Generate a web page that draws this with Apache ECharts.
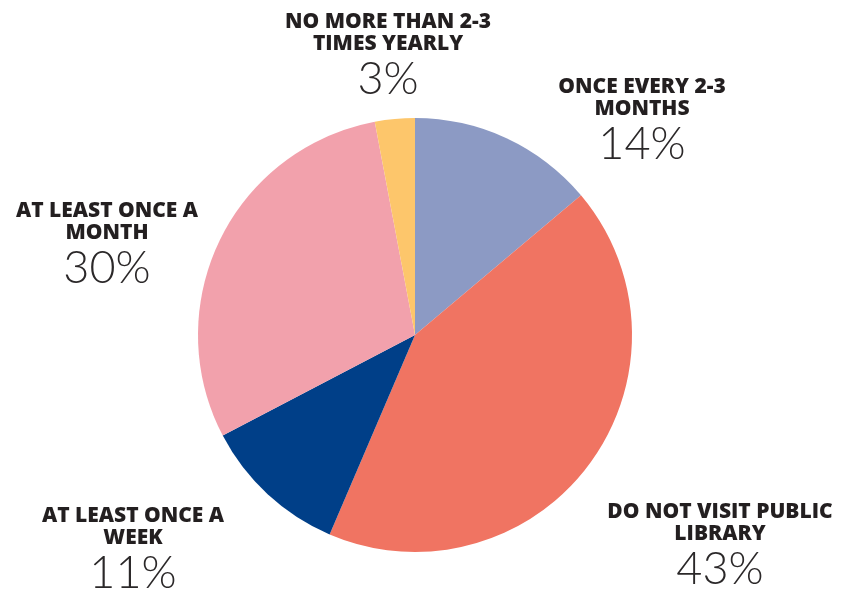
<!DOCTYPE html>
<html><head><meta charset="utf-8">
<script src="https://cdn.jsdelivr.net/npm/echarts@6/dist/echarts.min.js"></script>
<style>html,body{margin:0;padding:0;background:#fff}#c{width:847px;height:590px}</style>
</head><body><div id="c"></div>
<script>
const categories = ['ONCE EVERY 2-3\nMONTHS', 'DO NOT VISIT PUBLIC\nLIBRARY', 'AT LEAST ONCE A\nWEEK', 'AT LEAST ONCE A\nMONTH', 'NO MORE THAN 2-3\nTIMES YEARLY'];
const values = [14, 43, 11, 30, 3];
const colors = ['#8c9ac4', '#f07462', '#003f88', '#f2a1ac', '#fdc66b'];
// label anchor (center-top) positions
const labelPos = [[642, 76], [720, 501], [133, 505], [107, 200], [388, 11]];

const chart = echarts.init(document.getElementById('c'));
chart.setOption({
  animation: false,
  series: [{
    type: 'pie',
    center: [415, 335],
    radius: 217,
    startAngle: 90,
    clockwise: true,
    data: categories.map((n, i) => ({ name: n, value: values[i], itemStyle: { color: colors[i] } })),
    labelLine: { show: false },
    label: {
      show: true,
      position: 'outside',
      overflow: 'none',
      formatter: p => p.name.split('\n').map(s => '{t|' + s + '}').join('\n') + '\n{p|' + p.value + '%}',
      align: 'center',
      rich: {
        t: { fontFamily: 'Open Sans', fontWeight: 800, fontSize: 21, color: '#231f20', lineHeight: 22, align: 'center' },
        p: { fontFamily: 'Lato', fontWeight: 300, fontSize: 45, color: '#2b2829', lineHeight: 49, align: 'center' }
      }
    },
    labelLayout: function (params) {
      const pos = labelPos[params.dataIndex];
      return { x: pos[0], y: pos[1], align: 'center', verticalAlign: 'top' };
    }
  }]
});
</script></body></html>
